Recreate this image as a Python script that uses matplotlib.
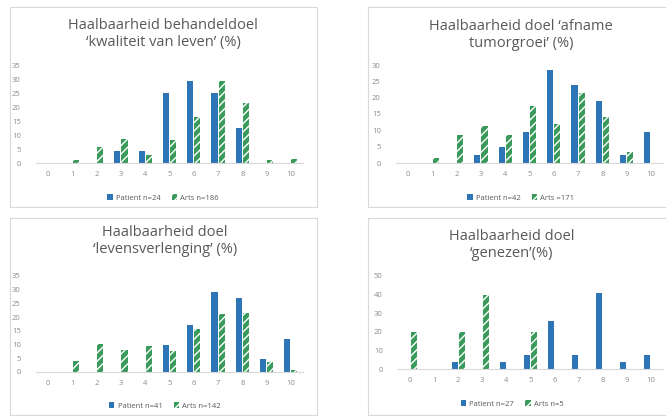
import matplotlib.pyplot as plt
from matplotlib.patches import Rectangle
import numpy as np

plt.rcParams['font.family'] = ['Open Sans', 'DejaVu Sans']
plt.rcParams['hatch.linewidth'] = 1.0

scores = [0, 1, 2, 3, 4, 5, 6, 7, 8, 9, 10]

kwaliteit_patient = [0, 0, 0, 4.2, 4.2, 25.0, 29.2, 25.0, 12.5, 0, 0]
kwaliteit_arts = [0, 1.0, 5.7, 8.7, 3.0, 8.1, 16.4, 29.4, 21.6, 1.0, 1.6]

tumor_patient = [0, 0, 0, 2.4, 4.8, 9.5, 28.6, 23.8, 19.0, 2.4, 9.5]
tumor_arts = [0, 1.5, 8.6, 11.4, 8.6, 17.5, 12.0, 21.4, 14.0, 3.3, 0]

leven_patient = [0, 0, 0, 0, 0, 9.8, 17.1, 29.3, 26.8, 4.9, 12.2]
leven_arts = [0, 3.9, 10.1, 7.9, 9.5, 7.7, 15.8, 21.3, 21.6, 3.6, 0.7]

genezen_patient = [0, 0, 3.7, 0, 3.7, 7.4, 25.9, 7.4, 40.7, 3.7, 7.4]
genezen_arts = [20, 0, 20, 40, 0, 20, 0, 0, 0, 0, 0]

panels = [
    ("Haalbaarheid behandeldoel\n\u2018kwaliteit van leven\u2019 (%)",
     kwaliteit_patient, kwaliteit_arts, "Patient n=24", "Arts n=186", 35, 5),
    ("Haalbaarheid doel \u2018afname\ntumorgroei\u2019 (%)",
     tumor_patient, tumor_arts, "Patient n=42", "Arts =171", 30, 5),
    ("Haalbaarheid doel\n\u2018levensverlenging\u2019 (%)",
     leven_patient, leven_arts, "Patient n=41", "Arts n=142", 35, 5),
    ("Haalbaarheid doel\n\u2018genezen\u2019(%)",
     genezen_patient, genezen_arts, "Patient n=27", "Arts n=5", 50, 10),
]

W, H = 666, 416
BLUE = '#2E75B6'
GREEN = '#3A9A5C'
TXT = '#595959'
TICK = '#8C8C8C'

# pixel layout: box (x0, y0, x1, y1), axes (left, top, right, bottom), title y, legend y, centre x
layout = [
    ((10, 7, 317, 207), (36, 65, 303, 163), 34, 198, 163),
    ((368, 7, 672, 207), (396, 65, 663, 163), 35, 198, 521),
    ((10, 218, 317, 415), (36, 276, 303, 372), 241, 406, 165),
    ((368, 218, 672, 415), (398, 276, 663, 369), 245, 404, 512),
]

fig = plt.figure(figsize=(W / 100, H / 100), dpi=100)

x = np.arange(len(scores))
bw = 0.25

for (title, pat, arts, lp, la, ymax, step), (box, ax_px, ty, ly, lx) in zip(panels, layout):
    bx0, by0, bx1, by1 = box
    fig.patches.append(Rectangle((bx0 / W, 1 - by1 / H), (bx1 - bx0) / W, (by1 - by0) / H,
                                 transform=fig.transFigure, facecolor='white',
                                 edgecolor='#D9D9D9', linewidth=0.8, zorder=-1))
    l, t, r, b = ax_px
    ax = fig.add_axes([l / W, 1 - b / H, (r - l) / W, (b - t) / H])
    ax.set_zorder(2)
    ax.patch.set_alpha(0)
    ax.bar(x - bw / 2 - 0.02, pat, bw, color=BLUE, label=lp)
    ax.bar(x + bw / 2 + 0.02, arts, bw, facecolor=GREEN, edgecolor='white',
           hatch='////', linewidth=0, label=la)
    ax.set_xlim(-0.5, 10.5)
    ax.set_ylim(0, ymax)
    ax.set_xticks(x)
    ax.set_xticklabels([str(s) for s in scores])
    ax.set_yticks(np.arange(0, ymax + 1, step))
    for s in ['top', 'right', 'left']:
        ax.spines[s].set_visible(False)
    ax.spines['bottom'].set_color('#D9D9D9')
    ax.spines['bottom'].set_linewidth(0.8)
    ax.tick_params(axis='both', length=0, labelsize=5.5, colors=TICK)
    ax.tick_params(axis='x', pad=6)
    ax.tick_params(axis='y', pad=11)
    fig.text(lx / W, 1 - ty / H, title, ha='center', va='center', fontsize=10.5,
             color=TXT, linespacing=1.2, zorder=3)
    leg = fig.legend(handles=ax.patches[:1] + ax.patches[11:12], labels=[lp, la],
                     loc='center', bbox_to_anchor=(lx / W, 1 - ly / H), ncol=2,
                     frameon=False, fontsize=5.5, labelcolor=TXT, handlelength=0.7,
                     handleheight=0.8, handletextpad=0.4, columnspacing=1.5)
    leg.set_zorder(3)

fig.savefig('out.png', dpi=100)
